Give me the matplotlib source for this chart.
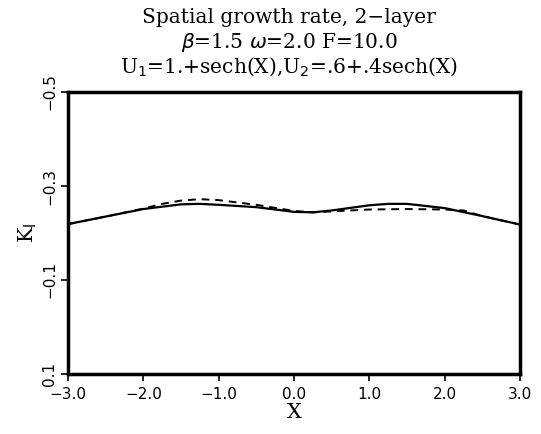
import numpy as np
import matplotlib.pyplot as plt

# valores
x_sol = [-3.0, -2.5, -2.0, -1.5, -1.25, -1.0, -0.5, 0.0, 0.25, 0.5, 1.0, 1.25, 1.5, 2.0, 2.5, 3.0]
k_sol = [-0.219, -0.235, -0.251, -0.261, -0.262, -0.260, -0.255, -0.245, -0.244, -0.248, -0.259, -0.262, -0.262, -0.253, -0.236, -0.218]

x_tra = [-3.0, -2.5, -2.0, -1.75, -1.5, -1.25, -1.0, -0.5, 0.0, 0.25, 0.5, 1.0, 1.5, 2.0, 2.25, 2.5, 3.0]
k_tra = [-0.219, -0.235, -0.252, -0.262, -0.269, -0.272, -0.270, -0.260, -0.247, -0.244, -0.246, -0.250, -0.251, -0.250, -0.248, -0.236, -0.218]

xticks = [-3.0, -2.0, -1.0, 0.0, 1.0, 2.0, 3.0]
yticks = [-0.5, -0.3, -0.1, 0.1]

fig = plt.figure(figsize=(5.41, 4.34), dpi=100)
ax = fig.add_axes([0.1257, 0.1382, 0.8355, 0.6498])

ax.plot(x_sol, k_sol, color='black', linewidth=1.6, linestyle='-')
ax.plot(x_tra, k_tra, color='black', linewidth=1.4, linestyle=(0, (4, 3)))

ax.set_xlim(-3.0, 3.0)
ax.set_ylim(0.1, -0.5)
ax.set_xticks(xticks)
ax.set_xticklabels([('%.1f' % v).replace('-', '\u2212') for v in xticks], fontsize=11)
ax.set_yticks(yticks)
ax.set_yticklabels([('%.1f' % v).replace('-', '\u2212') for v in yticks], fontsize=11,
                   rotation=90, va='center')
ax.tick_params(direction='out', length=5, width=1.2, pad=4)
ax.tick_params(axis='y', pad=3)
for s in ax.spines.values():
    s.set_linewidth(2.5)

ax.set_xlabel('X', fontsize=15, family='DejaVu Serif', labelpad=1)
ax.set_ylabel('K$_\\mathrm{I}$', fontsize=15, family='DejaVu Serif', rotation=90, labelpad=2)

# titulo em tres linhas
fig.text(0.535, 0.960, 'Spatial growth rate, 2\u2212layer', ha='center', va='center',
         fontsize=14.5, family='DejaVu Serif')
fig.text(0.535, 0.903, '$\\beta$=1.5 $\\omega$=2.0 F=10.0', ha='center', va='center',
         fontsize=14.5, family='DejaVu Serif')
fig.text(0.535, 0.846, 'U$_\\mathrm{1}$=1.+sech(X),U$_\\mathrm{2}$=.6+.4sech(X)', ha='center', va='center',
         fontsize=14.5, family='DejaVu Serif')

fig.savefig('out.png', dpi=100)
